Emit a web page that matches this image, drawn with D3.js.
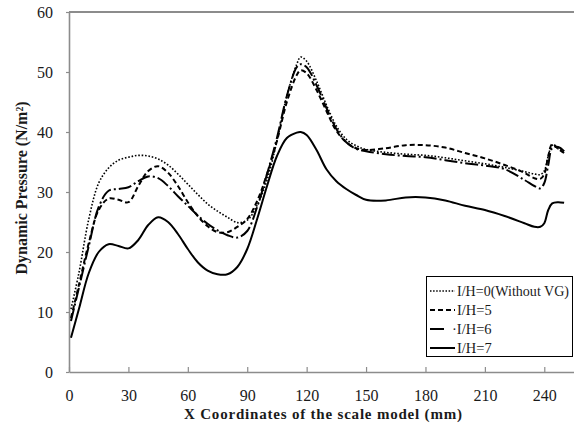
<!DOCTYPE html>
<html>
<head>
<meta charset="utf-8">
<script src="https://cdn.jsdelivr.net/npm/d3@7"></script>
<style>
  html, body { margin: 0; padding: 0; background: #fff; }
  svg { display: block; }
  svg text { font-family: "Liberation Serif", "Times New Roman", serif; }
</style>
</head>
<body>
<svg id="chart" width="574" height="425"></svg>
<script>
// Sampling positions along the model (mm)
const xCoords = [1, 5, 10, 15, 20, 25, 30, 35, 40, 45, 50, 55, 60, 65, 70, 75, 80, 85, 90, 95,
  100, 105, 110, 115, 117, 120, 125, 130, 135, 140, 145, 150, 160, 170, 180, 190, 200, 210,
  220, 230, 235, 238, 240, 242, 244, 247, 250];

// Dynamic pressure (N/m²) for each vortex-generator spacing
const pressureIH0 = [10.5, 16.5, 25.5, 31.5, 34.0, 35.3, 35.8, 36.1, 36.0, 35.5, 34.5, 33.0, 31.3, 29.6, 28.0, 26.8, 25.8, 24.9, 25.3, 27.8,
  32.0, 38.5, 46.0, 51.3, 52.5, 51.8, 48.5, 44.5, 41.0, 38.8, 37.7, 37.1, 36.6, 36.3, 36.1, 35.7, 35.2, 34.7,
  34.1, 33.4, 33.0, 32.9, 33.5, 36.0, 37.8, 37.2, 36.8];
const pressureIH5 = [9.0, 14.5, 21.5, 27.0, 28.9, 28.7, 28.3, 31.0, 33.5, 34.3, 33.2, 31.0, 28.3, 26.0, 24.3, 23.3, 23.3, 24.2, 25.5, 28.5,
  33.0, 38.5, 45.0, 49.5, 50.3, 49.8, 47.0, 43.5, 40.2, 38.3, 37.3, 37.0, 37.3, 37.8, 37.8, 37.4, 36.5, 35.6,
  34.5, 33.2, 32.3, 32.2, 33.0, 36.0, 38.0, 37.2, 36.5];
const pressureIH6 = [8.5, 14.0, 21.0, 27.5, 30.2, 30.5, 30.8, 31.8, 32.6, 32.3, 31.0, 29.3, 27.7, 26.1, 24.7, 23.6, 22.8, 22.4, 23.5, 27.5,
  33.0, 39.0, 46.0, 50.8, 51.3, 50.8, 47.8, 44.0, 40.5, 38.3, 37.2, 36.8, 36.3, 36.0, 35.8, 35.3, 34.8, 34.4,
  33.8, 32.0, 31.0, 30.6, 31.5, 34.5, 37.3, 37.5, 36.8];
const pressureIH7 = [5.7, 10.5, 16.5, 20.0, 21.3, 21.0, 20.6, 22.0, 24.5, 25.8, 25.0, 23.0, 20.5, 18.3, 16.9, 16.3, 16.3, 17.5, 20.5, 25.5,
  31.0, 36.0, 39.0, 39.9, 40.0, 39.5, 37.0, 33.8, 31.8, 30.5, 29.5, 28.7, 28.6, 29.1, 29.1, 28.6, 27.7, 27.0,
  26.0, 24.8, 24.2, 24.2, 24.8, 27.0, 28.1, 28.3, 28.2];

const seriesNames = ["I/H=0(Without VG)", "I/H=5", "\u00B7I/H=6", "I/H=7"];
const xTicks = [0, 30, 60, 90, 120, 150, 180, 210, 240];
const yTicks = [0, 10, 20, 30, 40, 50, 60];

const series = [
  { name: seriesNames[0], values: pressureIH0, dash: "1.6,1.8", width: 1.6, legendDash: "1.5,1.6" },
  { name: seriesNames[1], values: pressureIH5, dash: "5,3", width: 2, legendDash: "5,3" },
  { name: seriesNames[2], values: pressureIH6, dash: "13,3,2,3", width: 2, legendDash: "14,30" },
  { name: seriesNames[3], values: pressureIH7, dash: null, width: 2, legendDash: null }
];

const serif = '"Liberation Serif", "Times New Roman", serif';
const svg = d3.select("#chart");
const plotLeft = 69, plotRight = 574, plotTop = 12, plotBottom = 372;
const axisColor = "#8c8c8c";
const textColor = "#1a1a1a";

const x = d3.scaleLinear().domain([0, 255]).range([plotLeft, plotRight]);
const y = d3.scaleLinear().domain([0, 60]).range([plotBottom, plotTop]);

svg.append("rect").attr("width", 574).attr("height", 425).attr("fill", "#fff");

// Top frame line
svg.append("line")
  .attr("x1", plotLeft).attr("x2", plotRight).attr("y1", plotTop).attr("y2", plotTop)
  .attr("stroke", axisColor).attr("stroke-width", 1.8);

// X axis with inward ticks
const xAxis = svg.append("g")
  .attr("transform", `translate(0,${plotBottom})`)
  .call(d3.axisBottom(x).tickValues(xTicks).tickSizeInner(-5).tickSizeOuter(0).tickPadding(18));
xAxis.select(".domain").attr("stroke", axisColor).attr("stroke-width", 1.6);
xAxis.selectAll(".tick line").attr("stroke", axisColor).attr("stroke-width", 1.2);
xAxis.selectAll(".tick text")
  .attr("fill", textColor)
  .style("font-family", serif).style("font-size", "16px");

// Y axis with short outward ticks
const yAxis = svg.append("g")
  .attr("transform", `translate(${plotLeft},0)`)
  .call(d3.axisLeft(y).tickValues(yTicks).tickSizeInner(3).tickSizeOuter(0).tickPadding(13));
yAxis.select(".domain").attr("stroke", axisColor).attr("stroke-width", 1.6);
yAxis.selectAll(".tick line").attr("stroke", axisColor).attr("stroke-width", 1.2);
yAxis.selectAll(".tick text")
  .attr("fill", textColor)
  .style("font-family", serif).style("font-size", "16px");

// Curves
const line = d3.line()
  .x((d, i) => x(xCoords[i]))
  .y(d => y(d))
  .curve(d3.curveCatmullRom.alpha(0.5));

const plot = svg.append("g");
series.forEach(s => {
  plot.append("path")
    .attr("d", line(s.values))
    .attr("fill", "none")
    .attr("stroke", "#000")
    .attr("stroke-width", s.width)
    .attr("stroke-dasharray", s.dash)
    .attr("stroke-linejoin", "round");
});

// Axis titles
svg.append("text")
  .attr("x", 323).attr("y", 419)
  .attr("text-anchor", "middle")
  .attr("font-weight", "bold").attr("fill", textColor)
  .style("font-family", serif).style("font-size", "15px")
  .attr("textLength", 278).attr("lengthAdjust", "spacing")
  .text("X Coordinates of the scale model (mm)");

svg.append("text")
  .attr("transform", "translate(27,188) rotate(-90)")
  .attr("text-anchor", "middle")
  .attr("font-weight", "bold").attr("fill", textColor)
  .style("font-family", serif).style("font-size", "16px")
  .text("Dynamic Pressure (N/m²)");

// Legend
const legend = svg.append("g");
legend.append("rect")
  .attr("x", 426.5).attr("y", 276.5).attr("width", 146).attr("height", 80)
  .attr("fill", "#fff").attr("stroke", "#000").attr("stroke-width", 1);

const rowY = [291, 310, 329, 348];
series.forEach((s, i) => {
  const ry = rowY[i];
  legend.append("line")
    .attr("x1", 430).attr("x2", 455).attr("y1", ry).attr("y2", ry)
    .attr("stroke", "#000").attr("stroke-width", s.width)
    .attr("stroke-dasharray", s.legendDash);
  const t = legend.append("text")
    .attr("x", i === 2 ? 452 : 457).attr("y", ry).attr("dy", "0.33em")
    .attr("fill", textColor)
    .style("font-family", serif).style("font-size", "14.5px")
    .text(s.name);
  if (i === 0) t.attr("textLength", 112).attr("lengthAdjust", "spacingAndGlyphs");
});
</script>
</body>
</html>
